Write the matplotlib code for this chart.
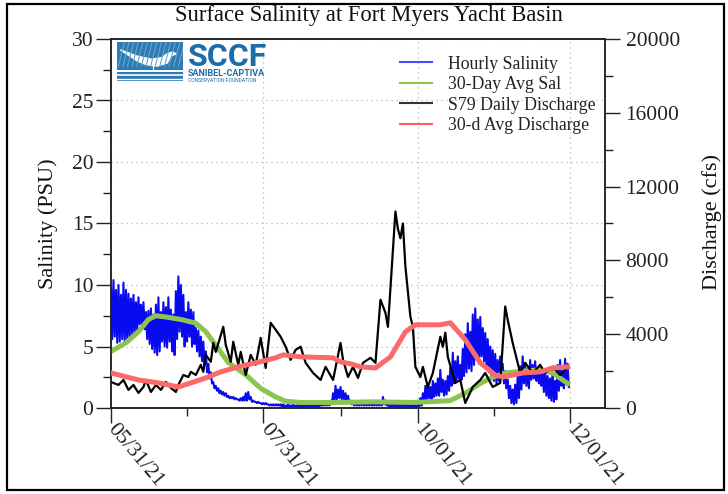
import numpy as np
import matplotlib.pyplot as plt
from matplotlib.patches import Rectangle, Polygon
from matplotlib.lines import Line2D

plt.rcParams['font.family'] = ['Liberation Serif', 'DejaVu Serif']

# x axis is days since 05/31/21
date_ticks = [0, 61, 123, 184]
date_labels = ['05/31/21', '07/31/21', '10/01/21', '12/01/21']
date_minor = [30.5, 92, 153.5]

# hourly salinity (PSU): daily high / low of the tidal swing, one pair per day
sal_hi = [9.8, 10.4, 9.6, 10.0, 9.2, 10.2, 9.6, 9.3, 8.9, 9.2,
          8.6, 9.0, 8.4, 8.6, 7.8, 7.9, 8.1, 7.6, 8.4, 9.0,
          7.8, 8.6, 8.2, 9.0, 8.0, 7.6, 9.5, 10.7, 10.0, 9.2,
          7.8, 8.6, 8.0, 7.8, 6.5, 6.3, 5.8, 5.4, 4.6, 3.6,
          2.9, 2.1, 1.8, 1.6, 1.4, 1.3, 1.2, 1.0, 0.9, 0.9,
          0.8, 0.7, 0.8, 0.9, 1.2, 1.3, 0.9, 0.6, 0.5, 0.5,
          0.4, 0.4, 0.4, 0.3, 0.3, 0.3, 0.3, 0.3, 0.3, 0.3,
          0.2, 0.3, 0.2, 0.3, 0.2, 0.3, 0.3, 0.2, 0.3, 0.2,
          0.3, 0.2, 0.3, 0.3, 0.4, 0.3, 0.4, 0.5, 0.6, 1.2,
          1.8, 1.5, 1.7, 1.4, 1.2, 1.0, 0.6, 0.4, 0.4, 0.3,
          0.4, 0.4, 0.3, 0.4, 0.4, 0.3, 0.4, 0.4, 0.5, 0.9,
          0.6, 0.3, 0.3, 0.3, 0.3, 0.3, 0.3, 0.3, 0.3, 0.3,
          0.3, 0.5, 0.3, 0.6, 0.8, 1.2, 1.8, 2.0, 1.7, 2.2,
          2.0, 2.4, 3.1, 2.3, 2.2, 2.6, 3.3, 4.5, 3.8, 4.2,
          3.5, 4.8, 6.0, 6.9, 6.2, 7.6, 8.1, 7.2, 7.4, 6.5,
          6.1, 5.6, 5.0, 4.7, 4.4, 3.9, 4.2, 3.6, 3.0, 2.3,
          1.8, 1.5, 1.9, 2.6, 3.4, 4.2, 3.6, 3.2, 3.9, 3.5,
          3.8, 3.0, 3.4, 2.8, 3.1, 2.6, 2.4, 3.1, 2.2, 3.5,
          3.9, 3.0, 4.0, 3.6]
sal_lo = [5.6, 5.8, 5.3, 5.4, 5.6, 5.4, 5.5, 5.8, 6.0, 6.1,
          6.3, 6.8, 6.6, 6.4, 5.6, 5.2, 4.8, 4.5, 4.3, 4.6,
          5.4, 5.0, 4.9, 5.4, 4.6, 4.3, 5.6, 6.2, 5.8, 5.0,
          5.4, 5.8, 5.0, 5.2, 4.6, 4.2, 3.8, 3.5, 2.9, 2.4,
          2.0, 1.6, 1.4, 1.2, 1.1, 1.0, 0.9, 0.8, 0.8, 0.7,
          0.7, 0.6, 0.6, 0.6, 0.6, 0.7, 0.5, 0.5, 0.4, 0.4,
          0.3, 0.3, 0.3, 0.2, 0.2, 0.2, 0.2, 0.2, 0.1, 0.1,
          0.1, 0.1, 0.1, 0.1, 0.1, 0.1, 0.1, 0.1, 0.1, 0.1,
          0.1, 0.1, 0.1, 0.1, 0.2, 0.2, 0.2, 0.2, 0.3, 0.5,
          0.7, 0.8, 0.7, 0.6, 0.5, 0.4, 0.3, 0.2, 0.2, 0.2,
          0.2, 0.2, 0.2, 0.2, 0.2, 0.2, 0.2, 0.2, 0.2, 0.3,
          0.2, 0.1, 0.1, 0.1, 0.1, 0.1, 0.1, 0.1, 0.1, 0.1,
          0.1, 0.1, 0.1, 0.1, 0.2, 0.4, 0.6, 0.8, 0.7, 0.9,
          1.0, 1.0, 1.3, 1.0, 1.1, 1.4, 1.8, 2.0, 2.2, 2.4,
          2.3, 2.6, 2.9, 3.2, 3.0, 3.5, 4.0, 3.6, 4.2, 3.8,
          3.2, 2.9, 2.6, 2.2, 2.0, 2.2, 2.4, 2.0, 1.6, 0.8,
          0.4, 0.3, 0.4, 0.8, 1.5, 2.0, 1.8, 1.6, 2.3, 2.4,
          2.2, 2.0, 1.8, 1.3, 1.0, 0.8, 0.6, 0.5, 0.7, 1.4,
          1.8, 1.6, 1.9, 1.7]

# 30-day average salinity
sal30_day = [0, 6, 11, 15, 18, 22, 28, 34, 38, 42, 47, 54, 60, 66,
             70, 76, 90, 105, 122, 136, 142, 148, 153, 158, 165, 172, 177, 183]
sal30 = [4.6, 5.3, 6.2, 7.2, 7.5, 7.4, 7.2, 6.9, 6.2, 5.1, 3.7, 2.7, 1.6, 0.9,
         0.55, 0.45, 0.45, 0.5, 0.45, 0.6, 1.2, 2.0, 2.5, 2.85, 3.0, 3.1, 2.85, 2.0]

# S79 daily discharge (cfs)
q_day = [0, 3, 5, 7, 9, 11, 13, 14, 16, 18, 20, 22, 24, 26, 27, 29, 31, 32, 34,
         36, 37, 38, 40, 41, 42, 45, 46, 48, 49, 51, 52, 54, 56, 58, 60, 62, 64,
         68, 70, 72, 74, 76, 78, 81, 84, 86, 89, 92, 93, 95, 97, 99, 101, 104,
         106, 108, 110, 111, 114, 115, 116, 117, 118, 120, 121, 122, 124, 125,
         127, 129, 132, 133, 134, 135, 138, 140, 142, 145, 148, 150, 153, 156,
         158, 159, 161, 164, 166, 169, 172, 174, 177, 180, 182]
q_cfs = [1410, 1250, 1520, 980, 1250, 815, 1140, 1520, 870, 1250, 980, 1410,
         1090, 870, 1250, 1790, 1680, 1960, 1790, 2340, 1960, 2880, 2500, 3530,
         3040, 4400, 3420, 2500, 3590, 2340, 3040, 1790, 2880, 2340, 3800, 2170,
         4620, 3860, 3320, 2610, 3150, 3320, 2450, 1900, 1520, 2230, 1520, 3530,
         2610, 1680, 2230, 1630, 2450, 2720, 2450, 5870, 5160, 4400, 10650, 9700,
         9200, 10000, 7660, 4950, 4400, 2230, 1680, 2230, 1140, 1900, 3860, 3320,
         4080, 2770, 1360, 1520, 270, 1140, 1520, 1900, 1140, 1360, 5500, 4780,
         3530, 1900, 2450, 1900, 2340, 1900, 2230, 1790, 2070]

# 30-day average discharge (cfs)
q30_day = [0, 11, 19, 27, 32, 38, 44, 51, 58, 66, 69, 76, 89, 92, 96, 100,
           106, 112, 118, 122, 132, 136, 142, 148, 154, 157, 165, 172, 177, 183]
q30 = [1900, 1520, 1360, 1140, 1360, 1630, 1960, 2230, 2450, 2720, 2880, 2770,
       2720, 2500, 2400, 2230, 2170, 2770, 4130, 4510, 4510, 4620, 3700, 2450,
       1790, 1680, 1900, 1960, 2170, 2230]

labels = ['Hourly Salinity', '30-Day Avg Sal', 'S79 Daily Discharge', '30-d Avg Discharge']
c_blue, c_green, c_black, c_red = '#0a0af0', '#8dc450', '#000000', '#fb6a6a'

# tide swing: high then low inside each day
t = np.arange(len(sal_hi))
hourly_t = np.column_stack([t, t + 0.5]).ravel()
hourly_s = np.column_stack([sal_hi, sal_lo]).ravel()

fig = plt.figure(figsize=(7.28, 4.94), dpi=100)
ax = fig.add_axes([111 / 728, 86 / 494, 494 / 728, 369 / 494])
ax2 = ax.twinx()

ax.plot(hourly_t, hourly_s, color=c_blue, lw=1.5, zorder=2)
ax.plot(sal30_day, sal30, color=c_green, lw=3.6, zorder=3)
ax2.plot(q_day, q_cfs, color=c_black, lw=1.6, zorder=2)
ax2.plot(q30_day, q30, color=c_red, lw=3.6, zorder=3)

ax.set_xlim(0, 198)
ax.set_ylim(0, 30)
ax2.set_ylim(0, 20000)

ax.set_xticks(date_ticks)
ax.set_xticklabels(date_labels)
ax.set_xticks(date_minor, minor=True)
ax.set_yticks(np.arange(0, 31, 5))
ax.set_yticks(np.arange(2.5, 30, 5), minor=True)
ax2.set_yticks(np.arange(0, 20001, 4000))
ax2.set_yticks(np.arange(2000, 20000, 4000), minor=True)

ax.grid(which='major', color='#b5b5b5', linestyle=(0, (1, 3)), lw=0.9)
ax.set_axisbelow(True)

ax.tick_params(which='major', direction='out', length=10.8, width=1.0,
               labelsize=15.5, pad=2, colors='#222222')
ax.tick_params(which='minor', direction='out', length=5.5, width=1.0, colors='#222222')
ax2.tick_params(which='major', direction='out', length=10.8, width=1.0,
                labelsize=15.5, pad=4, colors='#222222')
ax2.tick_params(which='minor', direction='out', length=5.5, width=1.0, colors='#222222')

for lbl in ax.get_xticklabels():
    lbl.set_rotation(-50)
    lbl.set_ha('left')
    lbl.set_va('center')
    lbl.set_rotation_mode('anchor')

for a in (ax, ax2):
    for sp in a.spines.values():
        sp.set_linewidth(1.1)
        sp.set_color('#222222')

ax.set_ylabel('Salinity (PSU)', fontsize=16, color='#111111')
ax.yaxis.set_label_coords(-0.108, 0.5)
ax2.set_ylabel('Discharge (cfs)', fontsize=16, color='#111111')
ax2.yaxis.set_label_coords(1.196, 0.504)

handles = [Line2D([], [], color=c, lw=1.5) for c in ('#4a4aff', '#8dc450', '#333333', '#ff5f5f')]
ax2.legend(handles, labels, loc='upper left', bbox_to_anchor=(0.585, 0.955),
           frameon=False, fontsize=12.8, handlelength=1.8, handletextpad=0.9,
           labelspacing=0.2, borderpad=0, borderaxespad=0, labelcolor='#222222')

fig.text(369 / 728, 1 - 15 / 494, 'Surface Salinity at Fort Myers Yacht Basin',
         ha='center', va='center', fontsize=16.3, color='#111111')

# logo block
lax = fig.add_axes([117 / 728, 1 - 81 / 494, 66 / 728, 39 / 494])
lax.set_xlim(0, 1)
lax.set_ylim(0, 1)
lax.axis('off')
lax.add_patch(Rectangle((0, 0), 1, 1, color='#2c7bb2'))
for gx in np.arange(0.02, 1.0, 0.07):
    lax.plot([gx, gx + 0.09], [0.38, 0.98], color='#6aa3cc', lw=0.8)
lax.add_patch(Polygon([(0.05, 0.8), (0.3, 0.64), (0.52, 0.56), (0.68, 0.6), (0.76, 0.7),
                       (0.84, 0.74), (0.9, 0.7), (0.82, 0.64), (0.76, 0.46), (0.6, 0.38),
                       (0.44, 0.42), (0.3, 0.52)], color='white'))
lax.plot([0.55, 0.55], [0.4, 0.28], color='white', lw=0.8)
for wy, wl in ((0.26, 1.4), (0.15, 1.2), (0.06, 1.0)):
    lax.plot([0, 1], [wy, wy], color='white', lw=wl)

fig.text(188 / 728, 1 - 66 / 494, 'SCCF', family='Roboto', weight='bold',
         fontsize=23, color='#1b6ca8', ha='left', va='baseline')
fig.text(188 / 728, 1 - 74 / 494, 'SANIBEL-CAPTIVA', family='Roboto', weight='bold',
         fontsize=6.5, color='#1b6ca8', ha='left', va='center')
fig.text(188 / 728, 1 - 80.5 / 494, 'CONSERVATION FOUNDATION', family='Roboto',
         fontsize=3.6, color='#1b6ca8', ha='left', va='center')

# outer frame
fig.add_artist(Rectangle((7 / 728, 4 / 494), 717 / 728, 486 / 494, transform=fig.transFigure,
                         fill=False, lw=1.6, ec='black'))

fig.savefig('out.png', dpi=100)
